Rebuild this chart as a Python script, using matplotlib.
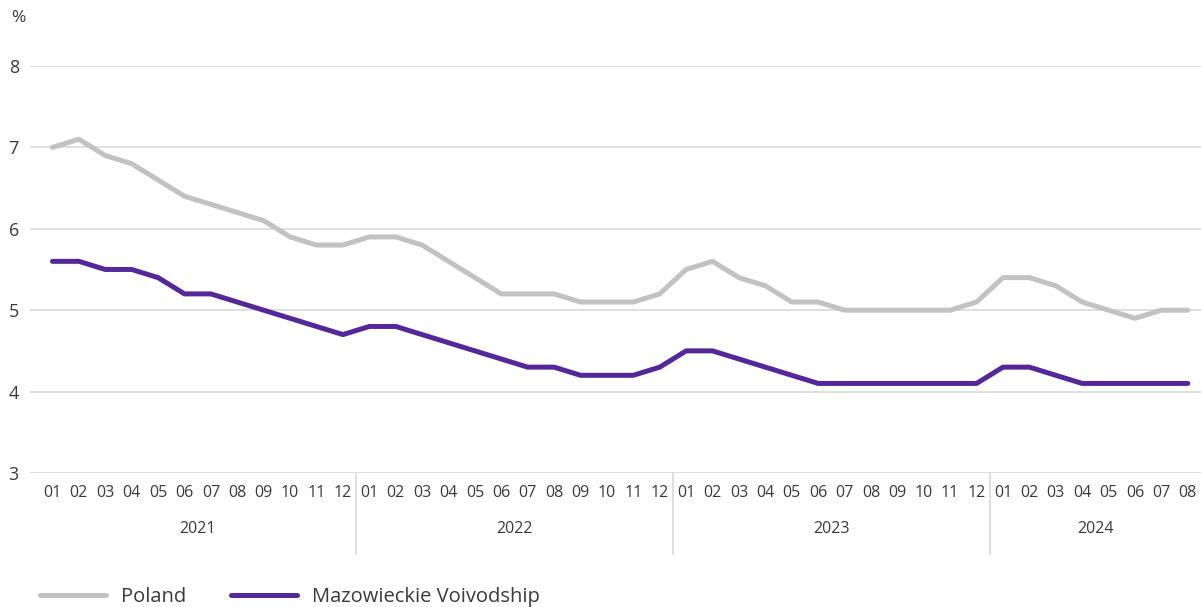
import matplotlib.pyplot as plt
from matplotlib import transforms

years = ['2021', '2022', '2023', '2024']
months = ['01', '02', '03', '04', '05', '06', '07', '08', '09', '10', '11', '12']
n_last_year = 8

poland = [7.0, 7.1, 6.9, 6.8, 6.6, 6.4, 6.3, 6.2, 6.1, 5.9, 5.8, 5.8,
          5.9, 5.9, 5.8, 5.6, 5.4, 5.2, 5.2, 5.2, 5.1, 5.1, 5.1, 5.2,
          5.5, 5.6, 5.4, 5.3, 5.1, 5.1, 5.0, 5.0, 5.0, 5.0, 5.0, 5.1,
          5.4, 5.4, 5.3, 5.1, 5.0, 4.9, 5.0, 5.0]
mazowieckie = [5.6, 5.6, 5.5, 5.5, 5.4, 5.2, 5.2, 5.1, 5.0, 4.9, 4.8, 4.7,
               4.8, 4.8, 4.7, 4.6, 4.5, 4.4, 4.3, 4.3, 4.2, 4.2, 4.2, 4.3,
               4.5, 4.5, 4.4, 4.3, 4.2, 4.1, 4.1, 4.1, 4.1, 4.1, 4.1, 4.1,
               4.3, 4.3, 4.2, 4.1, 4.1, 4.1, 4.1, 4.1]

plt.rcParams['font.family'] = ['Open Sans', 'DejaVu Sans']
txt = '#3a3a3a'

labels = months * 3 + months[:n_last_year]
x = list(range(len(labels)))

fig = plt.figure(figsize=(12.01, 6.07), dpi=100)
ax = fig.add_axes([0.025, 0.2208, 0.975, 0.6705])

ax.plot(x, poland, color='#c2c2c2', lw=3.6, solid_capstyle='round', label='Poland', zorder=3)
ax.plot(x, mazowieckie, color='#55289a', lw=3.6, solid_capstyle='round',
        label='Mazowieckie Voivodship', zorder=3)

ax.set_ylim(3, 8)
ax.set_xlim(-0.85, len(labels) - 0.5)
ax.set_yticks([3, 4, 5, 6, 7, 8])
ax.grid(axis='y', color='#dcdcdc', lw=1.3)
ax.set_axisbelow(True)
for s in ax.spines.values():
    s.set_visible(False)
ax.tick_params(axis='y', length=0, pad=8, labelsize=13, labelcolor=txt)
ax.set_xticks(x)
ax.set_xticklabels(labels)
ax.tick_params(axis='x', length=0, pad=9, labelsize=11.5, labelcolor=txt)

trans = transforms.blended_transform_factory(ax.transData, ax.transAxes)
for i, yr in enumerate(years):
    start = i * 12
    end = min(start + 11, len(labels) - 1)
    ax.text((start + end) / 2, -0.138, yr, transform=trans, ha='center', va='center',
            fontsize=11.5, color=txt)
    if i > 0:
        ax.plot([start - 0.5, start - 0.5], [0, -0.2], transform=trans, color='#dcdcdc',
                lw=1.3, clip_on=False)

fig.text(0.009, 0.97, '%', fontsize=12.5, color=txt, va='center')

fig.legend(loc='lower left', bbox_to_anchor=(0.018, -0.03), ncol=2, frameon=False,
           fontsize=14.5, handlelength=3.3, handletextpad=0.75, columnspacing=2.2,
           labelcolor=txt)

fig.savefig('out.png', dpi=100)
